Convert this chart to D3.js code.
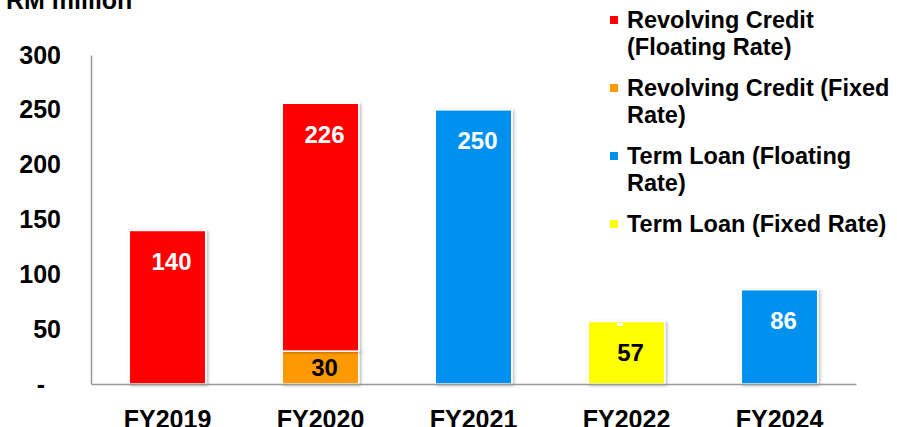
<!DOCTYPE html>
<html>
<head>
<meta charset="utf-8">
<script src="https://cdn.jsdelivr.net/npm/d3@7"></script>
<style>
  body { margin: 0; background: #fff; }
  text { font-family: "Liberation Sans", Arial, sans-serif; font-weight: bold; }
</style>
</head>
<body>
<script>
// données
const categories = ['FY2019', 'FY2020', 'FY2021', 'FY2022', 'FY2024'];
const revolvingFloating = [140, 226, 0, 0, 0];
const revolvingFixed = [0, 30, 0, 0, 0];
const termFloating = [0, 0, 250, 0, 86];
const termFixed = [0, 0, 0, 57, 0];
const zeroMarks = ['', '', '', '-', ''];
const yTicks = [0, 50, 100, 150, 200, 250, 300];

const series = [
  { key: 'revolvingFixed', name: 'Revolving Credit (Fixed Rate)', values: revolvingFixed, color: '#FF9900', label: '#000' },
  { key: 'termFixed', name: 'Term Loan (Fixed Rate)', values: termFixed, color: '#FFFF00', label: '#000' },
  { key: 'revolvingFloating', name: 'Revolving Credit (Floating Rate)', values: revolvingFloating, color: '#FF0000', label: '#fff' },
  { key: 'termFloating', name: 'Term Loan (Floating Rate)', values: termFloating, color: '#0090EE', label: '#fff' }
];

// légende dans l'ordre de l'image
const legendLines = [
  { key: 'revolvingFloating', lines: ['Revolving Credit', '(Floating Rate)'] },
  { key: 'revolvingFixed', lines: ['Revolving Credit (Fixed', 'Rate)'] },
  { key: 'termFloating', lines: ['Term Loan (Floating', 'Rate)'] },
  { key: 'termFixed', lines: ['Term Loan (Fixed Rate)'] }
];

const W = 897, H = 427;
const svg = d3.select('body').append('svg')
  .attr('width', W).attr('height', H);

// ombre légère des barres
const defs = svg.append('defs');
defs.append('filter').attr('id', 'ombre')
  .attr('x', '-10%').attr('y', '-10%').attr('width', '130%').attr('height', '130%')
  .append('feDropShadow')
  .attr('dx', 1.5).attr('dy', 1).attr('stdDeviation', 1.5)
  .attr('flood-color', '#000').attr('flood-opacity', 0.3);

const x = d3.scaleBand().domain(categories).range([91, 856]).paddingInner(0.5).paddingOuter(0.25);
const y = d3.scaleLinear().domain([0, 300]).range([384, 55]);

// titre (coupé en haut)
svg.append('text')
  .attr('x', 6).attr('y', 9)
  .attr('font-size', 25)
  .text('RM million');

// table pour d3.stack
const table = categories.map((c, i) => {
  const row = { cat: c };
  series.forEach(s => { row[s.key] = s.values[i]; });
  return row;
});
const stacked = d3.stack().keys(series.map(s => s.key))(table);

// barres
const g = svg.append('g');
stacked.forEach((layer, li) => {
  const s = series[li];
  layer.forEach((d, i) => {
    if (d[1] - d[0] <= 0) return;
    g.append('rect')
      .attr('x', x(categories[i]))
      .attr('y', y(d[1]))
      .attr('width', x.bandwidth())
      .attr('height', y(d[0]) - y(d[1]))
      .attr('fill', s.color)
      .attr('stroke', '#fff')
      .attr('stroke-width', 1.5)
      .attr('filter', 'url(#ombre)');
  });
});

// étiquettes de valeurs
stacked.forEach((layer, li) => {
  const s = series[li];
  layer.forEach((d, i) => {
    const v = d[1] - d[0];
    if (v <= 0) return;
    const cy = Math.min(y(d[1]) + 31, (y(d[0]) + y(d[1])) / 2);
    svg.append('text')
      .attr('x', x(categories[i]) + x.bandwidth() / 2 + 4)
      .attr('y', cy)
      .attr('dy', '0.36em')
      .attr('text-anchor', 'middle')
      .attr('font-size', 24)
      .attr('fill', s.label)
      .text(v);
  });
});

// petits tirets des séries à zéro
zeroMarks.forEach((m, i) => {
  if (!m) return;
  const total = d3.sum(series, s => s.values[i]);
  svg.append('text')
    .attr('x', x(categories[i]) + x.bandwidth() / 2 - 6)
    .attr('y', y(total) + 10)
    .attr('text-anchor', 'middle')
    .attr('font-size', 24)
    .attr('fill', '#fff')
    .text(m);
});

// axes
const axisY = svg.append('g')
  .attr('transform', 'translate(91,0)')
  .call(d3.axisLeft(y).tickValues(yTicks).tickSize(0).tickPadding(30)
    .tickFormat(d => d === 0 ? '-' : d));
axisY.select('.domain').attr('stroke', '#999').attr('stroke-width', 1.5);
axisY.selectAll('text')
  .attr('font-size', 25)
  .attr('fill', '#000')
  .attr('font-family', '"Liberation Sans", Arial, sans-serif')
  .attr('dx', d => d === 0 ? -16 : 0);

const axisX = svg.append('g')
  .attr('transform', 'translate(0,384)')
  .call(d3.axisBottom(x).tickSize(0).tickPadding(26));
axisX.select('.domain').attr('stroke', '#999').attr('stroke-width', 1.5);
axisX.selectAll('text')
  .attr('font-size', 25)
  .attr('fill', '#000')
  .attr('font-family', '"Liberation Sans", Arial, sans-serif');

// légende
const leg = svg.append('g');
legendLines.forEach((e, i) => {
  const s = series.find(t => t.key === e.key);
  const top = 20 + i * 68;
  leg.append('rect')
    .attr('x', 610).attr('y', top - 4)
    .attr('width', 8).attr('height', 8)
    .attr('fill', s.color);
  e.lines.forEach((l, j) => {
    leg.append('text')
      .attr('x', 627).attr('y', top + j * 27)
      .attr('dy', '0.36em')
      .attr('font-size', 23.5)
      .text(l);
  });
});
</script>
</body>
</html>
